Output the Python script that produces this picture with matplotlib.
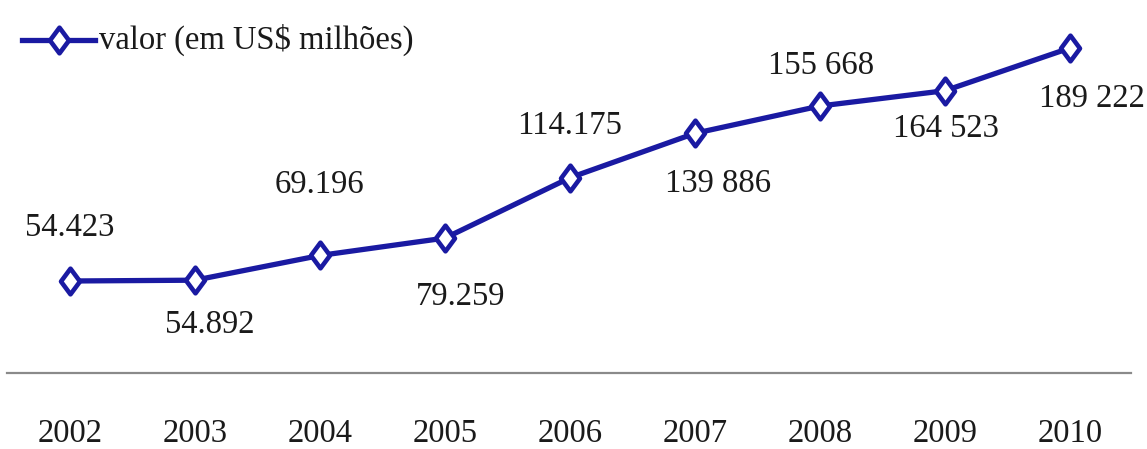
import matplotlib
matplotlib.use("Agg")
import matplotlib.pyplot as plt
from matplotlib.lines import Line2D
from matplotlib.path import Path

# Annual values (US$ millions)
years = [2002, 2003, 2004, 2005, 2006, 2007, 2008, 2009, 2010]
values = [54423, 54892, 69196, 79259, 114175, 139886, 155668, 164523, 189222]
value_labels = ["54.423", "54.892", "69.196", "79.259", "114.175",
                "139 886", "155 668", "164 523", "189 222"]
series_name = "valor (em US$ milhões)"

# Label placement relative to each point, in pixels (dx, dy)
label_offsets = [(0, 53), (15, -45), (0, 71), (16, -59), (0, 52),
                 (23, -50), (1, 40), (1, -38), (22, -51)]

plt.rcParams["font.family"] = ["Liberation Serif", "DejaVu Serif"]

W, H = 1147, 449
fig = plt.figure(figsize=(W / 100, H / 100), dpi=100)
fig.patch.set_facecolor("white")

ax_left, ax_right, ax_bottom = 7, 1131, H - 373
ax = fig.add_axes([ax_left / W, ax_bottom / H, (ax_right - ax_left) / W, 1 - ax_bottom / H])
ax.set_facecolor("none")

# Diamond a little narrower than it is tall
diamond = Path([(0, 1), (0.74, 0), (0, -1), (-0.74, 0), (0, 1)],
               [Path.MOVETO, Path.LINETO, Path.LINETO, Path.LINETO, Path.CLOSEPOLY])

line_color = "#1a1aa2"
text_color = "#1a1a1a"
marker_style = dict(marker=diamond, markersize=18.5, markerfacecolor="white",
                    markeredgecolor=line_color, markeredgewidth=3.3)

ax.plot(years, values, color=line_color, linewidth=3.8,
        solid_joinstyle="round", **marker_style)

for x, y, txt, (dx, dy) in zip(years, values, value_labels, label_offsets):
    ax.annotate(txt, (x, y), xytext=(dx, dy), textcoords="offset pixels",
                ha="center", va="center", fontsize=23.5, color=text_color)

ax.set_xlim(2002 - 63 / 125, 2010 + 61 / 125)
ax.set_ylim(1198, 216992)

ax.set_xticks(years)
ax.set_xticklabels([str(y) for y in years], fontsize=23.5, color=text_color)
ax.tick_params(axis="x", length=0, pad=33)
ax.set_yticks([])
for side in ("top", "left", "right"):
    ax.spines[side].set_visible(False)
ax.spines["bottom"].set_color("#8a8a8a")
ax.spines["bottom"].set_linewidth(1.6)

# Legend entry: line with marker and series name
ly = 1 - 40 / H
fig.add_artist(Line2D([22 / W, 95 / W], [ly, ly], transform=fig.transFigure,
                      color=line_color, linewidth=3.8))
fig.add_artist(Line2D([58.5 / W], [ly], transform=fig.transFigure,
                      linestyle="none", **marker_style))
fig.text(99 / W, ly, series_name, ha="left", va="center",
         fontsize=23.5, color=text_color)

fig.savefig("out.png", dpi=100, facecolor="white")
